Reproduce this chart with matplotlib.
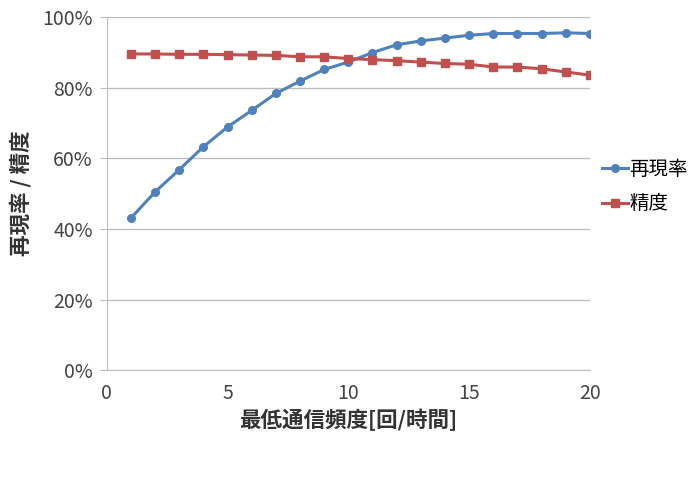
import numpy as np
import matplotlib
matplotlib.use('Agg')
import matplotlib.pyplot as plt
from matplotlib.ticker import PercentFormatter

plt.rcParams['font.family'] = ['Noto Sans CJK JP', 'DejaVu Sans']

# data
freq = list(range(1, 21))
recall = [43.1, 50.5, 56.8, 63.3, 68.9, 73.6, 78.4, 81.9, 85.2, 87.3,
          90.0, 92.2, 93.3, 94.1, 94.9, 95.4, 95.4, 95.4, 95.6, 95.4]
precision = [89.6, 89.6, 89.5, 89.5, 89.4, 89.3, 89.2, 88.8, 88.8, 88.3,
             88.0, 87.7, 87.3, 86.9, 86.7, 85.9, 85.9, 85.4, 84.5, 83.6]
y_ticks = [0, 20, 40, 60, 80, 100]
x_ticks = [0, 5, 10, 15, 20]

fig = plt.figure(figsize=(6.98, 4.8), dpi=100)
ax = fig.add_axes([0.153, 0.229, 0.692, 0.735])

ax.plot(freq, recall, color='#4F81BD', marker='o', markersize=5.5, linewidth=2.2, label='再現率')
ax.plot(freq, precision, color='#C0504D', marker='s', markersize=5.5, linewidth=2.2, label='精度')

ax.set_xlim(0, 20)
ax.set_ylim(0, 100)
ax.set_xticks(x_ticks)
ax.set_yticks(y_ticks)
ax.yaxis.set_major_formatter(PercentFormatter(decimals=0))
ax.grid(axis='y', color='#BFBFBF', linewidth=1)
ax.set_axisbelow(True)

for s in ['top', 'right']:
    ax.spines[s].set_visible(False)
ax.spines['left'].set_color('#BFBFBF')
ax.spines['bottom'].set_color('#BFBFBF')
ax.tick_params(axis='y', length=5, pad=5, color='#BFBFBF', labelsize=14, labelcolor='#444444')
ax.tick_params(axis='x', length=0, pad=9, labelsize=14, labelcolor='#444444')

ax.set_xlabel('最低通信頻度[回/時間]', fontsize=15.5, fontweight='bold', color='#333333', labelpad=4)
ax.set_ylabel('再現率 / 精度', fontsize=15.5, fontweight='bold', color='#333333', labelpad=8)

ax.legend(loc='center left', bbox_to_anchor=(0.99, 0.52), frameon=False,
          fontsize=14, handlelength=1.3, handletextpad=0.1, labelspacing=0.7)

fig.savefig('out.png', dpi=100)
